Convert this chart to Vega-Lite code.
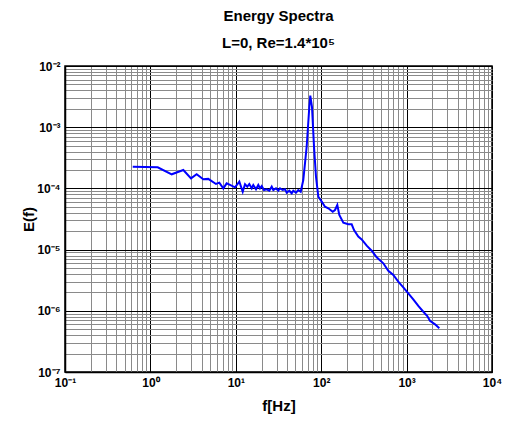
{
  "$schema": "https://vega.github.io/schema/vega-lite/v6.json",
  "autosize": "none",
  "width": 427,
  "height": 306,
  "padding": {"left": 65, "top": 66, "right": 20, "bottom": 49},
  "background": "white",
  "title": {
    "text": ["Energy Spectra", "L=0, Re=1.4*10⁵"],
    "font": "Liberation Sans",
    "fontSize": 15,
    "fontWeight": "bold",
    "color": "black",
    "lineHeight": 27,
    "offset": 9,
    "anchor": "middle"
  },
  "config": {
    "view": {"stroke": "black", "strokeWidth": 1.5},
    "axis": {
      "labelFont": "Liberation Sans",
      "labelFontWeight": "bold",
      "labelFontSize": 12,
      "labelColor": "black",
      "titleFont": "Liberation Sans",
      "titleFontWeight": "bold",
      "titleFontSize": 15,
      "titleColor": "black",
      "domainColor": "black",
      "domainWidth": 1.5,
      "ticks": false,
      "gridOpacity": 1
    }
  },
  "data": {
    "values": [
      {"f": 0.621, "E": 2.26e-4},
      {"f": 1.218, "E": 2.21e-4},
      {"f": 1.776, "E": 1.70e-4},
      {"f": 2.43, "E": 2.0e-4},
      {"f": 2.99, "E": 1.46e-4},
      {"f": 3.48, "E": 1.70e-4},
      {"f": 4.16, "E": 1.41e-4},
      {"f": 4.76, "E": 1.43e-4},
      {"f": 5.86, "E": 1.18e-4},
      {"f": 6.41, "E": 1.24e-4},
      {"f": 7.14, "E": 1.0e-4},
      {"f": 7.82, "E": 1.21e-4},
      {"f": 8.55, "E": 1.14e-4},
      {"f": 9.79, "E": 1.04e-4},
      {"f": 11.0, "E": 1.29e-4},
      {"f": 12.05, "E": 8.8e-5},
      {"f": 12.82, "E": 1.167e-4},
      {"f": 13.64, "E": 1.066e-4},
      {"f": 14.39, "E": 1.18e-4},
      {"f": 15.36, "E": 1.004e-4},
      {"f": 16.03, "E": 1.137e-4},
      {"f": 17.24, "E": 9.67e-5},
      {"f": 18.34, "E": 1.137e-4},
      {"f": 19.2, "E": 1.004e-4},
      {"f": 20.11, "E": 1.094e-4},
      {"f": 21.39, "E": 9.42e-5},
      {"f": 23.0, "E": 9.67e-5},
      {"f": 24.68, "E": 9.17e-5},
      {"f": 26.33, "E": 1.066e-4},
      {"f": 27.49, "E": 9.42e-5},
      {"f": 29.56, "E": 1.004e-4},
      {"f": 31.45, "E": 9.17e-5},
      {"f": 32.93, "E": 1.004e-4},
      {"f": 35.42, "E": 9.42e-5},
      {"f": 37.68, "E": 9.67e-5},
      {"f": 39.45, "E": 8.51e-5},
      {"f": 42.31, "E": 9.17e-5},
      {"f": 45.14, "E": 8.32e-5},
      {"f": 47.13, "E": 9.17e-5},
      {"f": 50.7, "E": 8.51e-5},
      {"f": 53.94, "E": 9.42e-5},
      {"f": 57.54, "E": 8.83e-5},
      {"f": 61.7, "E": 1.37e-4},
      {"f": 67.6, "E": 4.8e-4},
      {"f": 72.6, "E": 2.16e-3},
      {"f": 74.5, "E": 3.27e-3},
      {"f": 78.0, "E": 2.16e-3},
      {"f": 82.4, "E": 4.8e-4},
      {"f": 86.9, "E": 1.55e-4},
      {"f": 92.5, "E": 7.32e-5},
      {"f": 101.4, "E": 6.07e-5},
      {"f": 110.8, "E": 5.02e-5},
      {"f": 121.1, "E": 4.73e-5},
      {"f": 136.4, "E": 4.16e-5},
      {"f": 145.1, "E": 4.44e-5},
      {"f": 154.4, "E": 5.36e-5},
      {"f": 163.0, "E": 3.68e-5},
      {"f": 181.5, "E": 2.75e-5},
      {"f": 207.6, "E": 2.59e-5},
      {"f": 227.5, "E": 2.59e-5},
      {"f": 242.2, "E": 2.09e-5},
      {"f": 271.8, "E": 1.63e-5},
      {"f": 297.9, "E": 1.47e-5},
      {"f": 341.2, "E": 1.16e-5},
      {"f": 390.0, "E": 9.6e-6},
      {"f": 446.6, "E": 7.48e-6},
      {"f": 533.5, "E": 5.97e-6},
      {"f": 610.9, "E": 4.52e-6},
      {"f": 698.6, "E": 3.85e-6},
      {"f": 799.5, "E": 2.99e-6},
      {"f": 914.6, "E": 2.42e-6},
      {"f": 1047, "E": 1.93e-6},
      {"f": 1197, "E": 1.54e-6},
      {"f": 1371, "E": 1.2e-6},
      {"f": 1570, "E": 9.66e-7},
      {"f": 1747, "E": 8.22e-7},
      {"f": 1879, "E": 6.89e-7},
      {"f": 2153, "E": 6.01e-7},
      {"f": 2415, "E": 5.18e-7}
    ]
  },
  "mark": {"type": "line", "color": "#0000FF", "strokeWidth": 2, "clip": true},
  "encoding": {
    "x": {
      "field": "f",
      "type": "quantitative",
      "scale": {"type": "log", "domain": [0.1, 10000], "nice": false},
      "axis": {
        "title": "f[Hz]",
        "titlePadding": 10,
        "labelPadding": 5,
        "values": [0.1,0.2,0.3,0.4,0.5,0.6,0.7,0.8,0.9,1,2,3,4,5,6,7,8,9,10,20,30,40,50,60,70,80,90,100,200,300,400,500,600,700,800,900,1000,2000,3000,4000,5000,6000,7000,8000,9000,10000],
        "labelExpr": "datum.value==0.1?'10⁻¹':datum.value==1?'10⁰':datum.value==10?'10¹':datum.value==100?'10²':datum.value==1000?'10³':datum.value==10000?'10⁴':''",
        "labelOverlap": false,
        "labelFlush": false,
        "gridColor": {"condition": {"test": "indexof([0.1,1,10,100,1000,10000], datum.value) >= 0", "value": "#000000"}, "value": "#8a8a8a"}
      }
    },
    "y": {
      "field": "E",
      "type": "quantitative",
      "scale": {"type": "log", "domain": [1e-7, 0.01], "nice": false},
      "axis": {
        "title": "E(f)",
        "titlePadding": 0,
        "labelPadding": 5,
        "values": [1e-7,2e-7,3e-7,4e-7,5e-7,6e-7,7e-7,8e-7,9e-7,1e-6,2e-6,3e-6,4e-6,5e-6,6e-6,7e-6,8e-6,9e-6,1e-5,2e-5,3e-5,4e-5,5e-5,6e-5,7e-5,8e-5,9e-5,1e-4,2e-4,3e-4,4e-4,5e-4,6e-4,7e-4,8e-4,9e-4,1e-3,2e-3,3e-3,4e-3,5e-3,6e-3,7e-3,8e-3,9e-3,1e-2],
        "labelExpr": "datum.value==1e-7?'10⁻⁷':datum.value==1e-6?'10⁻⁶':datum.value==1e-5?'10⁻⁵':datum.value==1e-4?'10⁻⁴':datum.value==1e-3?'10⁻³':datum.value==1e-2?'10⁻²':''",
        "labelOverlap": false,
        "labelFlush": false,
        "gridColor": {"condition": {"test": "indexof([1e-7,1e-6,1e-5,1e-4,1e-3,1e-2], datum.value) >= 0", "value": "#000000"}, "value": "#8a8a8a"}
      }
    }
  }
}
